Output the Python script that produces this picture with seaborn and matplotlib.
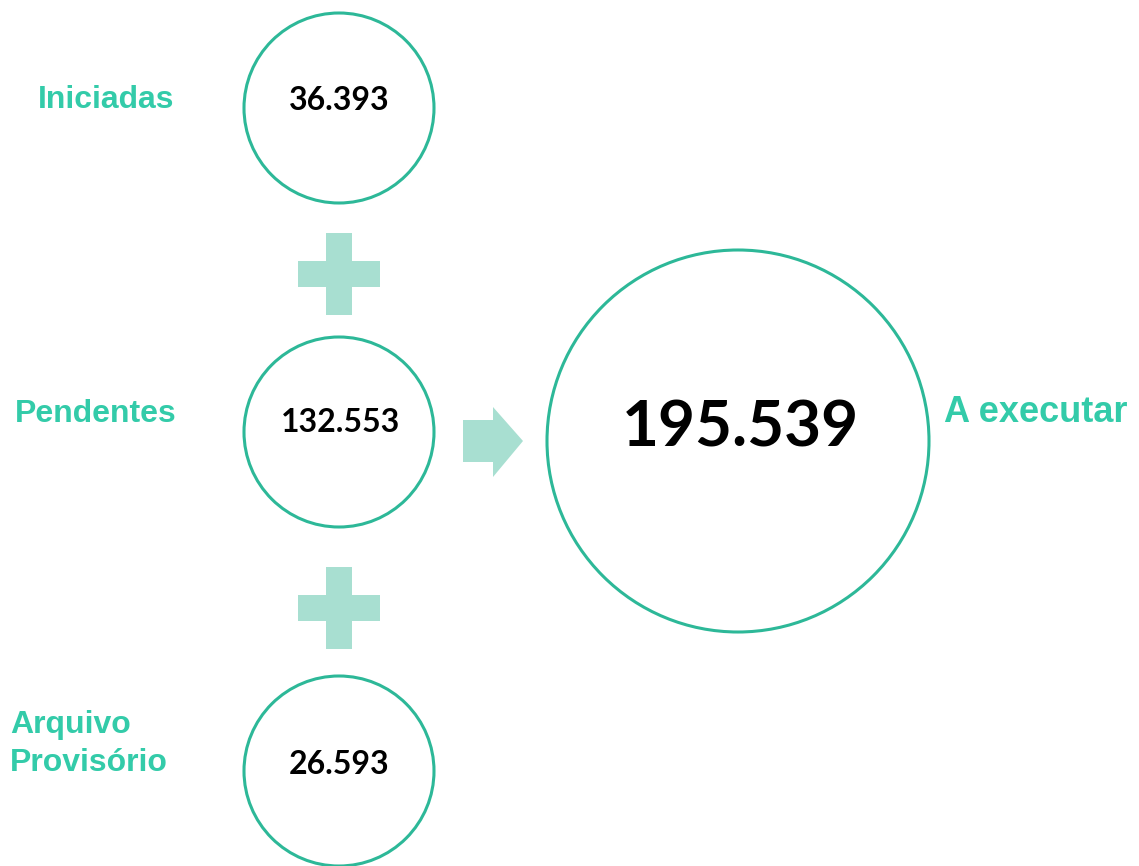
import matplotlib
matplotlib.use("Agg")
import matplotlib.pyplot as plt
from matplotlib.patches import Circle, Polygon
import seaborn as sns

# data
labels = ["Iniciadas", "Pendentes", "Arquivo\nProvisório"]
values = [36393, 132553, 26593]
total_label = "A executar"
total_value = 195539

# colours
edge_col = "#2DB898"
label_col = "#33CBA9"
shape_col = "#A8DFD1"


def fmt(v):
    return f"{v:,}".replace(",", ".")


sns.set_theme(style="white")
fig = plt.figure(figsize=(11.39, 8.66), dpi=100)
ax = fig.add_axes([0, 0, 1, 1])
ax.set_xlim(0, 1139)
ax.set_ylim(866, 0)
ax.set_axis_off()

# small circles layout
cx = 339
cys = [108, 432, 771]
r_small = 95
num_y = [100, 423, 765]
lab_pos = [(106, 100, "center"), (96, 414, "center"), (10, 744, "left")]

for i, v in enumerate(values):
    ax.add_patch(Circle((cx, cys[i]), r_small, fill=False, ec=edge_col, lw=2.2))
    ax.text(cx + (2 if v > 99999 else 0), num_y[i], fmt(v), ha="center", va="center",
            fontsize=23, fontweight="bold", family="Lato", color="black")
    lx, ly, ha = lab_pos[i]
    ax.text(lx, ly, labels[i], ha=ha, va="center", fontsize=23, fontweight="bold",
            family="Liberation Sans", color=label_col, linespacing=1.35)

# plus signs
for py in [274, 608]:
    ax.add_patch(Polygon([(326, py - 41), (352, py - 41), (352, py - 13), (380, py - 13),
                          (380, py + 13), (352, py + 13), (352, py + 41), (326, py + 41),
                          (326, py + 13), (298, py + 13), (298, py - 13), (326, py - 13)],
                         closed=True, fc=shape_col, ec="none"))

# arrow
ax.add_patch(Polygon([(463, 420), (493, 420), (493, 407), (523, 441), (493, 477),
                      (493, 462), (463, 462)], closed=True, fc=shape_col, ec="none"))

# big circle
ax.add_patch(Circle((738, 441), 191, fill=False, ec=edge_col, lw=2.2))
ax.text(740, 428, fmt(total_value), ha="center", va="center", fontsize=46,
        fontweight="bold", family="Lato", color="black")
ax.text(1036, 413, total_label, ha="center", va="center", fontsize=26,
        fontweight="bold", family="Liberation Sans", color=label_col)

fig.savefig("out.png", dpi=100, facecolor="white")
